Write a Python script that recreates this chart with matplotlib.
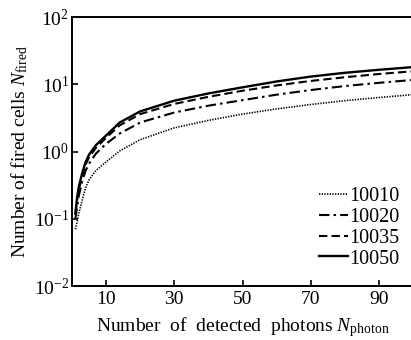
import matplotlib
matplotlib.use("Agg")
import matplotlib.pyplot as plt
from matplotlib.ticker import FixedLocator, NullLocator

plt.rcParams["font.family"] = ["Liberation Serif", "DejaVu Serif"]
plt.rcParams["mathtext.fontset"] = "custom"
plt.rcParams["mathtext.it"] = "Liberation Serif:italic"
plt.rcParams["mathtext.rm"] = "Liberation Serif"

# values
n_photon = [1, 1.5, 2, 3, 4, 5, 7, 10, 14, 20, 30, 40, 50, 60, 70, 80, 90, 100]
fired_10010 = [0.07, 0.09, 0.12, 0.19, 0.29, 0.38, 0.52, 0.70, 1.02, 1.5, 2.25, 2.9, 3.6, 4.3, 5.0, 5.7, 6.35, 7.0]
fired_10020 = [0.10, 0.15, 0.22, 0.36, 0.52, 0.66, 0.93, 1.3, 1.85, 2.7, 3.8, 4.8, 5.8, 7.0, 8.2, 9.4, 10.5, 11.6]
fired_10035 = [0.12, 0.19, 0.27, 0.44, 0.64, 0.82, 1.13, 1.6, 2.45, 3.6, 5.1, 6.5, 8.0, 9.6, 11.2, 12.7, 14.2, 15.6]
fired_10050 = [0.12, 0.21, 0.30, 0.48, 0.70, 0.90, 1.24, 1.73, 2.7, 3.95, 5.7, 7.3, 9.0, 11.0, 13.0, 14.8, 16.4, 18.0]
labels = ["10010", "10020", "10035", "10050"]
xticks = [10, 30, 50, 70, 90]

fig = plt.figure(figsize=(4.11, 3.40), dpi=100)
ax = fig.add_axes([72 / 411, 1 - 286 / 340, 341 / 411, 269 / 340])

series = [fired_10010, fired_10020, fired_10035, fired_10050]
styles = [(0, (0.8, 0.8)), (0, (5, 2, 1.2, 2)), (0, (4, 2)), "-"]
widths = [1.2, 1.5, 1.5, 1.7]
for ys, ls, lw, lab in zip(series, styles, widths, labels):
    ax.plot(n_photon, ys, color="black", linestyle=ls, linewidth=lw, label=lab)

ax.set_yscale("log")
ax.set_ylim(1e-2, 1e2)
ax.set_xlim(0, 100)
ax.xaxis.set_major_locator(FixedLocator(xticks))
ax.yaxis.set_minor_locator(NullLocator())
ax.tick_params(direction="in", length=4, width=1.2, labelsize=14)
ax.tick_params(axis="y", pad=2)
for s in ax.spines.values():
    s.set_linewidth(1.4)
ax.spines["right"].set_visible(False)

ax.set_xlabel(r"Number  of  detected  photons $N_{\mathrm{photon}}$", fontsize=14, labelpad=5)
ax.set_ylabel(r"Number of fired cells $N_{\mathrm{fired}}$", fontsize=14, labelpad=3)

ax.legend(loc="lower right", frameon=False, fontsize=14.5, handlelength=1.45,
          handletextpad=0.05, labelspacing=0.08, borderaxespad=0.2,
          bbox_to_anchor=(0.995, 0.02))

fig.savefig("out.png", dpi=100)
